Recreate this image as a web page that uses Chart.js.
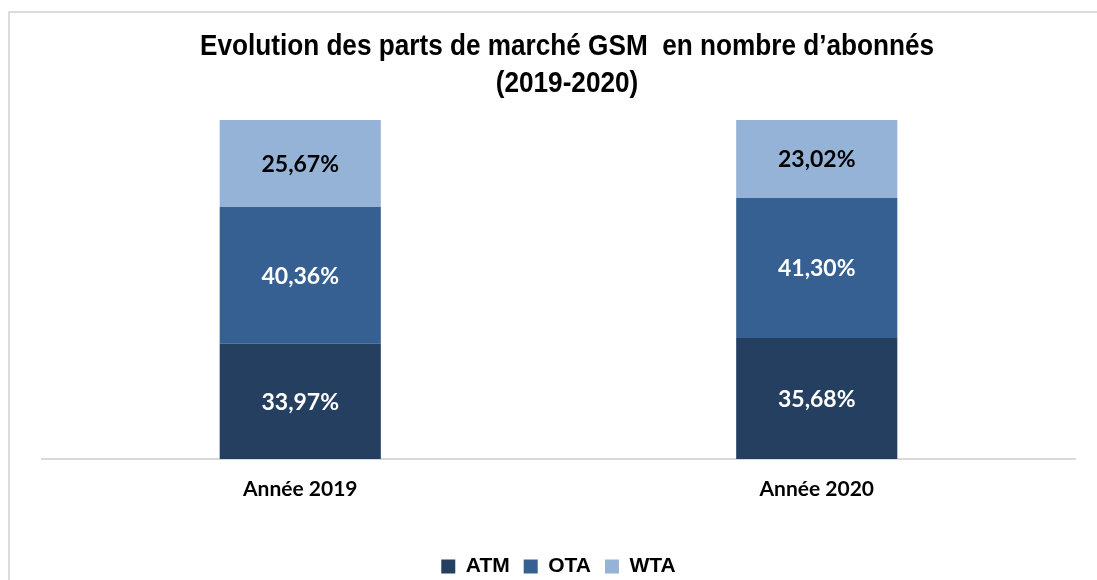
<!DOCTYPE html>
<html>
<head>
<meta charset="utf-8">
<script src="https://cdn.jsdelivr.net/npm/chart.js@4.4.1/dist/chart.umd.min.js"></script>
<style>
  html, body { margin: 0; padding: 0; background: #fff; overflow: hidden; }
  #wrap { position: relative; width: 1097px; height: 580px; }
  #frame { position: absolute; left: 8px; top: 11px; width: 1200px; height: 700px; border: 2px solid #dcdcdc; box-sizing: border-box; }
  canvas { position: absolute; left: 0; top: 0; }
</style>
</head>
<body>
<div id="wrap">
  <div id="frame"></div>
  <canvas id="chart" width="1097" height="580"></canvas>
</div>
<script>
// chart data
const categories = ['Année 2019', 'Année 2020'];
const seriesNames = ['ATM', 'OTA', 'WTA'];
const atmShare = [33.97, 35.68];
const otaShare = [40.36, 41.30];
const wtaShare = [25.67, 23.02];
const titleLines = ['Evolution des parts de marché GSM  en nombre d\u2019abonnés', '(2019-2020)'];

const seriesColors = ['#253f61', '#376092', '#95b3d7'];
const labelColors = ['#ffffff', '#ffffff', '#000000'];

// percentage with a French decimal comma
const fmtPct = v => v.toFixed(2).replace('.', ',') + '%';

// value labels centred in each stacked segment
const segmentLabels = {
  id: 'segmentLabels',
  afterDatasetsDraw(chart) {
    const ctx = chart.ctx;
    ctx.save();
    ctx.font = 'bold 23px Lato, "Open Sans", sans-serif';
    ctx.textAlign = 'center';
    ctx.textBaseline = 'middle';
    chart.data.datasets.forEach((ds, i) => {
      const meta = chart.getDatasetMeta(i);
      meta.data.forEach((bar, j) => {
        ctx.fillStyle = labelColors[i];
        ctx.fillText(fmtPct(ds.data[j]), bar.x, (bar.y + bar.base) / 2 + 1);
      });
    });
    ctx.restore();
  }
};

// condensed two-line title (narrow bold face squeezed horizontally)
const narrowTitle = {
  id: 'narrowTitle',
  afterDraw(chart) {
    const ctx = chart.ctx;
    ctx.save();
    ctx.font = 'bold 30px "Liberation Sans", Arial, sans-serif';
    ctx.fillStyle = '#000';
    ctx.textAlign = 'center';
    ctx.textBaseline = 'middle';
    titleLines.forEach((line, i) => {
      ctx.save();
      ctx.translate(567, 47 + i * 37);
      ctx.scale(0.872, 1);
      ctx.fillText(line, 0, 0);
      ctx.restore();
    });
    ctx.restore();
  }
};

new Chart(document.getElementById('chart'), {
  type: 'bar',
  data: {
    labels: categories,
    datasets: [
      { label: seriesNames[0], data: atmShare, backgroundColor: seriesColors[0] },
      { label: seriesNames[1], data: otaShare, backgroundColor: seriesColors[1] },
      { label: seriesNames[2], data: wtaShare, backgroundColor: seriesColors[2] }
    ]
  },
  options: {
    responsive: false,
    animation: false,
    layout: { padding: { left: 42, right: 22, top: 120, bottom: -7 } },
    datasets: {
      bar: { categoryPercentage: 1, barPercentage: 0.312 }
    },
    scales: {
      x: {
        stacked: true,
        grid: { display: false },
        border: { display: true, color: '#d9d9d9', width: 2 },
        afterFit: s => { s.height = 83; },
        ticks: {
          color: '#000',
          padding: 10,
          font: { family: 'Lato, "Open Sans", sans-serif', size: 21, weight: 'bold' }
        }
      },
      y: {
        stacked: true,
        display: false,
        min: 0,
        max: 100
      }
    },
    plugins: {
      title: { display: false },
      legend: {
        position: 'bottom',
        labels: {
          color: '#000',
          boxWidth: 14,
          boxHeight: 14,
          padding: 14,
          font: { family: '"Liberation Sans", Arial, sans-serif', size: 21, weight: 'bold' }
        }
      },
      tooltip: { enabled: false }
    }
  },
  plugins: [segmentLabels, narrowTitle]
});
</script>
</body>
</html>
